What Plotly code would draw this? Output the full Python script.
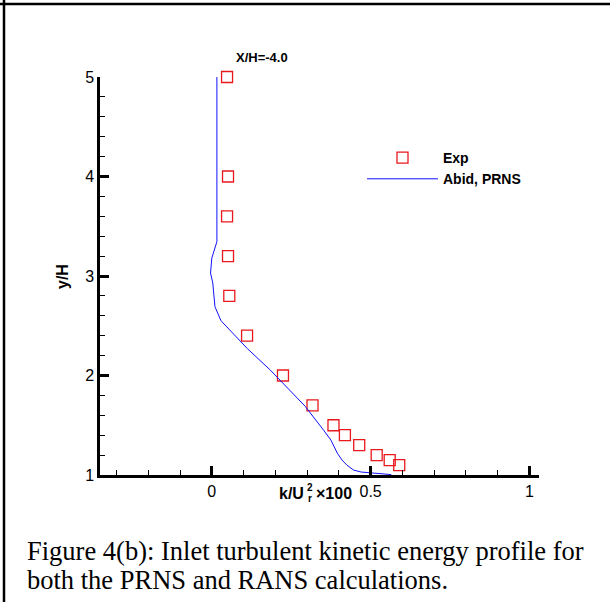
import plotly.graph_objects as go

W, H = 610, 602

# Experimental data (squares)
exp_k = [0.048, 0.051, 0.048, 0.051, 0.055, 0.111, 0.224, 0.317, 0.383, 0.419, 0.464, 0.519, 0.560, 0.590]
exp_y = [5.0, 4.0, 3.6, 3.2, 2.8, 2.4, 2.0, 1.7, 1.5, 1.4, 1.3, 1.2, 1.15, 1.1]

# Abid, PRNS profile (line)
prns_k = [0.016, 0.016, 0.0, -0.004, 0.003, 0.010, 0.029, 0.112, 0.184, 0.294, 0.352,
          0.375, 0.395, 0.410, 0.425, 0.446, 0.470, 0.500, 0.557, 0.565]
prns_y = [5.0, 3.345, 3.18, 3.03, 2.93, 2.69, 2.55, 2.27, 2.055, 1.69, 1.45,
          1.35, 1.22, 1.15, 1.10, 1.05, 1.03, 1.02, 1.008, 1.004]

x_range = [-0.352, 1.03]
y_range = [1, 5]

title_text = "X/H=-4.0"
y_title = "y/H"
caption_lines = ["Figure 4(b): Inlet turbulent kinetic energy profile for",
                 "both the PRNS and RANS calculations."]

fig = go.Figure()
fig.add_trace(go.Scatter(
    x=exp_k, y=exp_y, mode="markers", name="Exp", cliponaxis=False,
    marker=dict(symbol="square-open", size=11, color="#e8181c", line=dict(width=1.3)),
))
fig.add_trace(go.Scatter(
    x=prns_k, y=prns_y, mode="lines", name="Abid, PRNS",
    line=dict(color="#1010ff", width=1),
))

ax_font = dict(family="Liberation Sans, Arial", size=16, color="black")

fig.update_layout(
    width=W, height=H,
    margin=dict(l=0, r=0, t=0, b=0, autoexpand=False),
    paper_bgcolor="white", plot_bgcolor="white",
    showlegend=True,
    legend=dict(
        x=362 / W, y=1 - 142 / H, xanchor="left", yanchor="top",
        itemwidth=71, bgcolor="rgba(0,0,0,0)",
        font=dict(family="Liberation Sans, Arial", size=14, color="black", weight="bold"),
        tracegroupgap=0,
    ),
    xaxis=dict(
        domain=[100 / W, 539 / W], range=x_range, automargin=False,
        tickmode="linear", tick0=0, dtick=0.5,
        ticks="inside", ticklen=9, tickwidth=2.5, tickcolor="black",
        showline=True, linewidth=2.5, linecolor="black",
        showgrid=False, zeroline=False, tickfont=ax_font,
        minor=dict(tick0=0, dtick=0.1, ticks="inside", ticklen=5, tickwidth=1.2, tickcolor="black", showgrid=False),
    ),
    yaxis=dict(
        domain=[1 - 475 / H, 1 - 77 / H], range=y_range, automargin=False,
        tickmode="linear", tick0=0, dtick=1,
        ticks="inside", ticklen=9, tickwidth=2.5, tickcolor="black",
        showline=True, linewidth=2.5, linecolor="black",
        showgrid=False, zeroline=False, tickfont=ax_font,
        minor=dict(tick0=0, dtick=0.2, ticks="inside", ticklen=5, tickwidth=1.2, tickcolor="black", showgrid=False),
    ),
)

bold = dict(family="Liberation Sans, Arial", color="black", weight="bold")


def ann(text, x, y, size, xanchor="center", yanchor="middle", **kw):
    fig.add_annotation(text=text, xref="paper", yref="paper", x=x / W, y=1 - y / H,
                       xanchor=xanchor, yanchor=yanchor, showarrow=False,
                       font=dict(size=size, **bold), **kw)


ann(title_text, 262, 57, 13)
ann(y_title, 62, 277, 16, textangle=-90)
# x-axis title with stacked super/subscript: k/U (2 over r) x100
ann("k/U", 306, 493, 16, xanchor="right")
ann("2", 310, 487, 10)
ann("r", 310, 498, 10)
ann("×100", 314, 493, 16, xanchor="left")

for i, line in enumerate(caption_lines):
    fig.add_annotation(text=line, xref="paper", yref="paper", x=25 / W, y=1 - (551 + 29 * i) / H,
                       xanchor="left", yanchor="middle", align="left", showarrow=False,
                       font=dict(family="Liberation Serif, Times New Roman", size=26.5, color="black"))

# Outer frame (top and left edges visible)
fig.add_shape(type="line", xref="paper", yref="paper", x0=0, x1=1, y0=1 - 4 / H, y1=1 - 4 / H,
              line=dict(color="black", width=2.5))
fig.add_shape(type="line", xref="paper", yref="paper", x0=4 / W, x1=4 / W, y0=0, y1=1,
              line=dict(color="black", width=2.5))

fig.write_html("out.html")
